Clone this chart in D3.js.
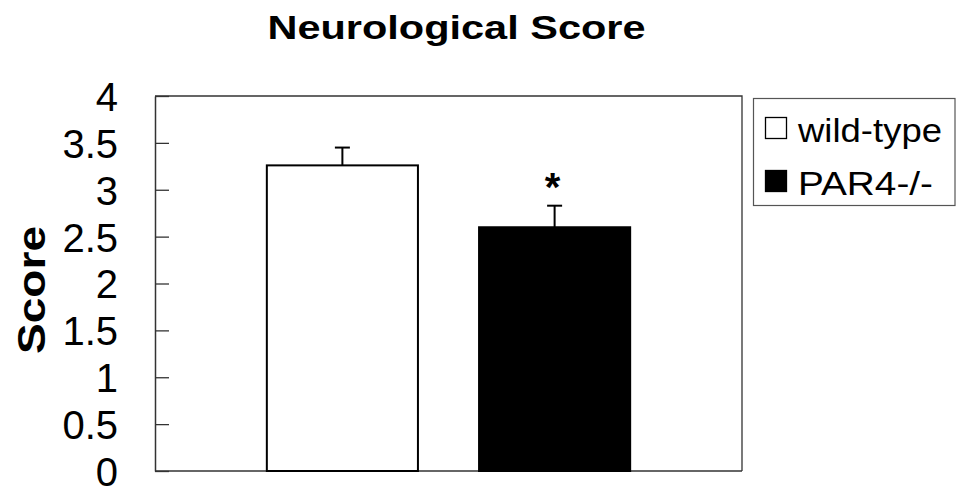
<!DOCTYPE html>
<html>
<head>
<meta charset="utf-8">
<script src="https://cdn.jsdelivr.net/npm/d3@7"></script>
<style>
  html, body { margin: 0; padding: 0; background: #fff; }
  svg { display: block; font-family: "Liberation Sans", Arial, Helvetica, sans-serif; }
</style>
</head>
<body>
<svg id="chart" width="956" height="493"></svg>
<script>
// Neurological score by genotype (mean ± SEM)
const groups = ["wild-type", "PAR4-/-"];
const means = [3.26, 2.6];
const errors = [0.19, 0.23];
const marks = ["", "*"];
const fills = ["#ffffff", "#000000"];
const yTickValues = [0, 0.5, 1, 1.5, 2, 2.5, 3, 3.5, 4];
const yTickLabels = ["0", "0.5", "1", "1.5", "2", "2.5", "3", "3.5", "4"];

const svg = d3.select("#chart");
const plot = { left: 155, right: 742, top: 96, bottom: 471 };

const y = d3.scaleLinear().domain([0, 4]).range([plot.bottom, plot.top]);
const x = d3.scaleBand()
  .domain(groups)
  .range([plot.left, plot.right])
  .paddingInner(0.288)
  .paddingOuter(0.527);

// Title
svg.append("text")
  .attr("x", 456.5).attr("y", 39)
  .attr("text-anchor", "middle")
  .attr("font-size", 33).attr("font-weight", "bold")
  .attr("textLength", 378).attr("lengthAdjust", "spacingAndGlyphs")
  .text("Neurological Score");

// Plot frame (top and right edges)
svg.append("path")
  .attr("d", `M${plot.left},${plot.top}H${plot.right}V${plot.bottom}`)
  .attr("fill", "none").attr("stroke", "#333").attr("stroke-width", 1.3);

// Bottom axis line
svg.append("line")
  .attr("x1", plot.left).attr("x2", plot.right)
  .attr("y1", plot.bottom).attr("y2", plot.bottom)
  .attr("stroke", "#333").attr("stroke-width", 1.5);

// Left axis with inward ticks
const yAxis = d3.axisLeft(y)
  .tickValues(yTickValues)
  .tickFormat((d, i) => yTickLabels[i])
  .tickSizeInner(-14)
  .tickSizeOuter(0)
  .tickPadding(37);

const gy = svg.append("g")
  .attr("transform", `translate(${plot.left},0)`)
  .call(yAxis);
gy.select(".domain").attr("stroke", "#333").attr("stroke-width", 1.5);
gy.selectAll(".tick line").attr("stroke", "#333").attr("stroke-width", 1.3);
gy.selectAll(".tick text")
  .attr("font-size", 40)
  .attr("font-family", "\"Liberation Sans\", Arial, sans-serif")
  .attr("fill", "#000")
  .attr("dy", "0.36em");

// Y axis title
svg.append("text")
  .attr("transform", "translate(45,290) rotate(-90)")
  .attr("text-anchor", "middle")
  .attr("font-size", 38).attr("font-weight", "bold")
  .attr("textLength", 128).attr("lengthAdjust", "spacingAndGlyphs")
  .text("Score");

// Error bars (drawn before the bars so the bar outline sits on top)
const eb = svg.append("g").selectAll("g").data(groups).join("g");
eb.append("line")
  .attr("x1", d => x(d) + x.bandwidth() / 2)
  .attr("x2", d => x(d) + x.bandwidth() / 2)
  .attr("y1", (d, i) => y(means[i]))
  .attr("y2", (d, i) => y(means[i] + errors[i]))
  .attr("stroke", "#000").attr("stroke-width", 2);
eb.append("line")
  .attr("x1", d => x(d) + x.bandwidth() / 2 - 7.5)
  .attr("x2", d => x(d) + x.bandwidth() / 2 + 7.5)
  .attr("y1", (d, i) => y(means[i] + errors[i]))
  .attr("y2", (d, i) => y(means[i] + errors[i]))
  .attr("stroke", "#000").attr("stroke-width", 2);

// Bars
svg.append("g").selectAll("rect").data(groups).join("rect")
  .attr("x", d => x(d))
  .attr("y", (d, i) => y(means[i]))
  .attr("width", x.bandwidth())
  .attr("height", (d, i) => y(0) - y(means[i]))
  .attr("fill", (d, i) => fills[i])
  .attr("stroke", "#000").attr("stroke-width", 2);

// Significance markers
svg.append("g").selectAll("text").data(groups).join("text")
  .attr("x", d => x(d) + x.bandwidth() / 2 - 2)
  .attr("y", (d, i) => y(means[i] + errors[i]) - 5)
  .attr("text-anchor", "middle")
  .attr("font-size", 40).attr("font-weight", "bold")
  .text((d, i) => marks[i]);

// Legend
const legend = svg.append("g");
legend.append("rect")
  .attr("x", 753.5).attr("y", 98.5)
  .attr("width", 201.5).attr("height", 107)
  .attr("fill", "#fff").attr("stroke", "#555").attr("stroke-width", 1.2);

const legendTextLen = [144, 135];
const item = legend.selectAll("g.item").data(groups).join("g")
  .attr("class", "item")
  .attr("transform", (d, i) => `translate(0,${i * 53})`);
item.append("rect")
  .attr("x", 765.5).attr("y", 117.5)
  .attr("width", 21).attr("height", 21)
  .attr("fill", (d, i) => fills[i])
  .attr("stroke", "#000").attr("stroke-width", 1.3);
item.append("text")
  .attr("x", 798).attr("y", 142)
  .attr("font-size", 33)
  .attr("textLength", (d, i) => legendTextLen[i])
  .attr("lengthAdjust", "spacingAndGlyphs")
  .text(d => d);
</script>
</body>
</html>
